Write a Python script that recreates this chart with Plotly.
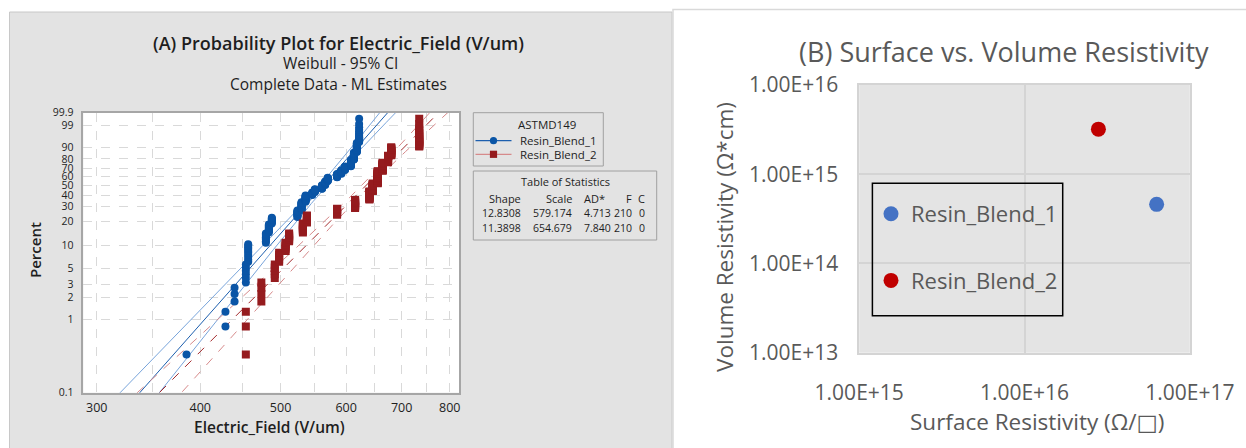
import numpy as np
import plotly.graph_objects as go

# ---------------- Panel A data (Weibull probability plot) ----------------
# breakdown electric field values (V/um) and number of specimens at each value
blend1_field = [385, 429, 440, 454, 457, 480, 484, 488, 524, 530, 536, 546, 550,
                561, 566, 570, 585, 592, 598, 608, 613, 618, 622]
blend1_count = [1, 2, 3, 6, 10, 8, 9, 8, 10, 14, 13, 6, 7,
                9, 9, 9, 9, 9, 9, 15, 15, 15, 14]
blend2_field = [454, 474, 492, 498, 507, 512, 532, 538, 585, 615, 640, 646,
                655, 664, 674, 680, 735]
blend2_count = [3, 4, 5, 5, 6, 7, 10, 10, 10, 15, 17, 18,
                30, 20, 15, 15, 20]

series_names = ["Resin_Blend_1", "Resin_Blend_2"]
legend_title = "ASTMD149"
shape_est = [12.8308, 11.3898]
scale_est = [579.174, 654.679]
ad_stat = ["4.713", "7.840"]
n_fail = [210, 210]
n_cens = [0, 0]

pct_ticks = [0.1, 1, 2, 3, 5, 10, 20, 30, 40, 50, 60, 70, 80, 90, 99, 99.9]
field_ticks = [300, 350, 400, 450, 500, 550, 600, 650, 700, 750, 800]
field_labels = ["300", "", "400", "", "500", "", "600", "", "700", "", "800"]

# ---------------- Panel B data ----------------
surface_res = [6.3e16, 2.8e16]     # ohm/sq
volume_res = [4.6e14, 3.2e15]      # ohm*cm
b_xticks = [1e15, 1e16, 1e17]
b_xlabels = ["1.00E+15", "1.00E+16", "1.00E+17"]
b_yticks = [1e13, 1e14, 1e15, 1e16]
b_ylabels = ["1.00E+13", "1.00E+14", "1.00E+15", "1.00E+16"]

W, H = 1246, 448


def px(x):
    return x / W


def py(y):
    return 1 - y / H


def wz(p):
    p = np.asarray(p, dtype=float) / 100.0
    return np.log(-np.log(1 - p))


blue_pt = "#0a55a6"
red_pt = "#951b1e"
blue_fit = "#1d5fae"
blue_ci = "#78a4da"
red_fit = "#a3292c"
red_ci = "#d68a8b"
panel_grey = "#e3e3e3"

fig = go.Figure()

# fitted Weibull lines and 95% CI (from the table of statistics)
zz = np.linspace(-7.3, 2.3, 200)
styles = [(blue_fit, blue_ci, "solid"), (red_fit, red_ci, "dash")]
for k in range(2):
    b = 1.0 / shape_est[k]
    n = n_fail[k]
    center = np.log(scale_est[k]) + b * zz
    sd = b * np.sqrt((1.1087 + 0.5140 * zz + 0.6079 * zz ** 2) / n)
    fc, cc, dash = styles[k]
    for off, col in [(-1.96, cc), (1.96, cc), (0.0, fc)]:
        fig.add_trace(go.Scatter(
            x=np.exp(center + off * sd), y=zz, mode="lines",
            line=dict(color=col, width=1, dash=dash),
            showlegend=False, hoverinfo="skip", xaxis="x", yaxis="y"))

# data points with median-rank plotting positions
for k, (fields, counts) in enumerate([(blend1_field, blend1_count),
                                      (blend2_field, blend2_count)]):
    vals = np.repeat(fields, counts)
    nn = len(vals)
    ranks = np.arange(1, nn + 1)
    pct = (ranks - 0.3) / (nn + 0.4) * 100
    fig.add_trace(go.Scatter(
        x=vals, y=wz(pct), mode="markers", name=series_names[k],
        marker=dict(color=[blue_pt, red_pt][k], size=8,
                    symbol=["circle", "square"][k], line=dict(width=0)),
        showlegend=False, xaxis="x", yaxis="y"))

# panel B points
for k in range(2):
    fig.add_trace(go.Scatter(
        x=[surface_res[k]], y=[volume_res[k]], mode="markers",
        name=series_names[k],
        marker=dict(color=["#4472c4", "#c00000"][k], size=15),
        legend="legend2", legendgroup=series_names[k],
        xaxis="x2", yaxis="y2"))

fontA = "Open Sans, Noto Sans, DejaVu Sans"
fontB = "Open Sans, Noto Sans, DejaVu Sans"
greyB = "#595959"
inkA = "#1e1e1e"

shapes = [
    dict(type="rect", xref="paper", yref="paper", x0=px(9.5), x1=px(672),
         y0=py(450), y1=py(12), fillcolor=panel_grey,
         line=dict(color="#c8c8c8", width=1), layer="below"),
    dict(type="rect", xref="paper", yref="paper", x0=px(673), x1=px(1250),
         y0=py(450), y1=py(9.5), fillcolor="#ffffff",
         line=dict(color="#d9d9d9", width=1.5), layer="below"),
    dict(type="rect", xref="x domain", yref="y domain", x0=0, x1=1, y0=0, y1=1,
         fillcolor="#ffffff", line=dict(width=0), layer="below"),
    dict(type="rect", xref="x2 domain", yref="y2 domain", x0=0, x1=1, y0=0, y1=1,
         fillcolor="#e4e4e4", line=dict(width=0), layer="below"),
    # panel A legend box
    dict(type="rect", xref="paper", yref="paper", x0=px(473.3), x1=px(603.3),
         y0=py(166), y1=py(112.7), fillcolor="rgba(0,0,0,0)",
         line=dict(color="#a0a0a0", width=1)),
    # statistics table box
    dict(type="rect", xref="paper", yref="paper", x0=px(473.3), x1=px(656.7),
         y0=py(240), y1=py(171), fillcolor="rgba(0,0,0,0)",
         line=dict(color="#a0a0a0", width=1)),
    # panel B legend frame
    dict(type="rect", xref="paper", yref="paper", x0=px(872.4), x1=px(1062.7),
         y0=py(315.7), y1=py(183.3), fillcolor="rgba(0,0,0,0)",
         line=dict(color="#000000", width=1.5)),
]

# panel A legend keys (line with marker)
key_y = [140.7, 154.3]
key_line = [blue_fit, red_ci]
for k in range(2):
    shapes.append(dict(type="line", xref="paper", yref="paper",
                       x0=px(475.5), x1=px(511.5), y0=py(key_y[k]), y1=py(key_y[k]),
                       line=dict(color=key_line[k], width=1.3)))
    shapes.append(dict(type=["circle", "rect"][k], xref="paper", yref="paper",
                       x0=px(493.5 - 3.6), x1=px(493.5 + 3.6),
                       y0=py(key_y[k] + 3.6), y1=py(key_y[k] - 3.6),
                       fillcolor=[blue_pt, red_pt][k], line=dict(width=0)))

ann = []


def add_text(text, x, y, size, family=fontA, color=inkA, weight=None,
             xanchor="center", textangle=0):
    f = dict(size=size, family=family, color=color)
    if weight:
        f["weight"] = weight
    ann.append(dict(text=text, x=px(x), y=py(y), xref="paper", yref="paper",
                    showarrow=False, xanchor=xanchor, yanchor="middle",
                    font=f, textangle=textangle))


add_text("(A) Probability Plot for Electric_Field (V/um)", 339, 43, 18, weight=600)
add_text("Weibull - 95% CI", 340, 63.5, 15.5)
add_text("Complete Data - ML Estimates", 339, 84, 15.5)
add_text("Percent", 35, 250, 15, weight=600, textangle=-90)
add_text("Electric_Field (V/um)", 269.5, 426.5, 15.5, weight=600)

# panel A legend texts
add_text(legend_title, 547.3, 124, 11.5)
for k in range(2):
    add_text(series_names[k], 518.3, key_y[k], 11.5, xanchor="left")

# table of statistics
add_text("Table of Statistics", 565.7, 181, 11)
headers = ["Shape", "Scale", "AD*", "F", "C"]
head_x = [523.3, 574.0, 594.5, 633.5, 646.7]
head_anchor = ["right", "right", "center", "right", "right"]
val_x = [523.3, 574.0, 613.3, 633.5, 646.7]
for c, h in enumerate(headers):
    add_text(h, head_x[c], 198.3, 11, xanchor=head_anchor[c])
for k in range(2):
    row = [f"{shape_est[k]:.4f}", f"{scale_est[k]:.3f}", ad_stat[k],
           str(n_fail[k]), str(n_cens[k])]
    for c, t in enumerate(row):
        add_text(t, val_x[c], [212.7, 227.7][k], 10.5, xanchor="right")

# panel B texts
add_text("(B) Surface vs. Volume Resistivity", 1004, 51.7, 27, family=fontB, color=greyB)
add_text("Volume Resistivity (Ω*cm)", 725, 237, 22.5, family=fontB, color=greyB, textangle=-90)
add_text("Surface Resistivity (Ω/□)", 1036.6, 421, 22.5, family=fontB, color=greyB)

fig.update_layout(
    width=W, height=H, margin=dict(l=0, r=0, t=0, b=0, pad=0, autoexpand=False),
    paper_bgcolor="#ffffff", plot_bgcolor="rgba(0,0,0,0)",
    shapes=shapes, annotations=ann,
    xaxis=dict(type="log", domain=[px(83.3), px(459.3)],
               range=[np.log10(289), np.log10(821.6)], automargin=False,
               tickmode="array", tickvals=field_ticks, ticktext=field_labels,
               showgrid=True, gridcolor="#d9d9d9", griddash="dash", gridwidth=1,
               showline=True, linecolor="#a6a6a6", linewidth=1.5, mirror=True,
               ticks="", ticklen=0, ticklabelstandoff=3, zeroline=False,
               tickfont=dict(size=12.5, family=fontA, color=inkA)),
    yaxis=dict(domain=[py(392.7), py(112.7)], automargin=False,
               range=[float(wz(0.1)), float(wz(99.9))],
               tickmode="array", tickvals=list(wz(pct_ticks)),
               ticktext=[str(p) for p in pct_ticks],
               showgrid=True, gridcolor="#d9d9d9", griddash="dash", gridwidth=1,
               showline=True, linecolor="#a6a6a6", linewidth=1.5, mirror=True,
               ticks="", ticklen=0, ticklabelstandoff=6, zeroline=False,
               tickfont=dict(size=10.5, family=fontA, color=inkA)),
    xaxis2=dict(type="log", domain=[px(859.2), px(1189.8)], range=[15, 17],
                anchor="y2", automargin=False,
                tickmode="array", tickvals=b_xticks, ticktext=b_xlabels,
                showgrid=True, gridcolor="#d4d4d4", gridwidth=1.5,
                showline=True, linecolor="#d4d4d4", linewidth=1.5, mirror=True,
                ticks="", ticklen=0, ticklabelstandoff=20, zeroline=False,
                tickfont=dict(size=21, family=fontB, color=greyB)),
    yaxis2=dict(type="log", domain=[py(352.7), py(85)], range=[13, 16],
                anchor="x2", automargin=False,
                tickmode="array", tickvals=b_yticks, ticktext=b_ylabels,
                showgrid=True, gridcolor="#d4d4d4", gridwidth=1.5,
                showline=True, linecolor="#d4d4d4", linewidth=1.5, mirror=True,
                ticks="", ticklen=0, ticklabelstandoff=15, zeroline=False,
                tickfont=dict(size=21, family=fontB, color=greyB)),
    legend2=dict(x=px(871), y=py(193), xanchor="left", yanchor="top",
                 bgcolor="rgba(0,0,0,0)", borderwidth=0,
                 font=dict(size=22, family=fontB, color=greyB),
                 tracegroupgap=35, itemwidth=30),
)

fig.write_html("out.html")
